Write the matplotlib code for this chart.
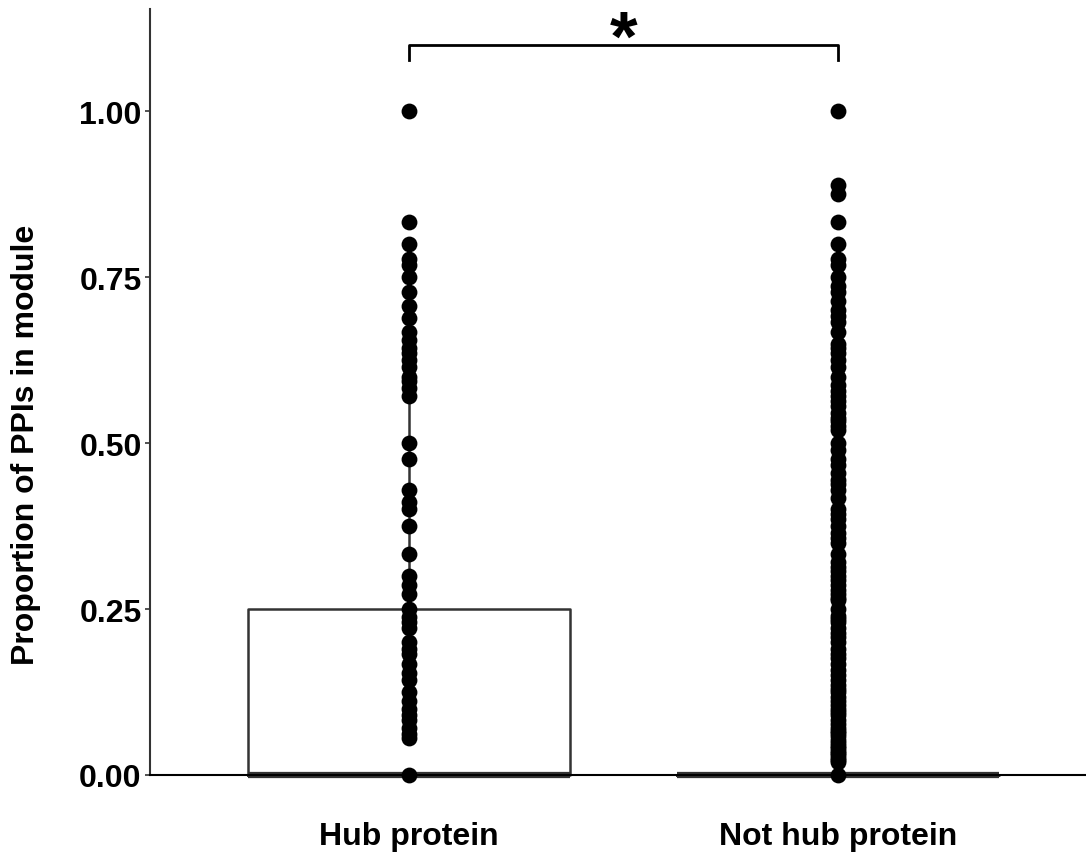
import matplotlib
matplotlib.use('Agg')
import matplotlib.pyplot as plt

# Categories and data
categories = ['Hub protein', 'Not hub protein']

hub_values = [1.0, 0.833, 0.80, 0.778, 0.769, 0.75, 0.727, 0.706, 0.688, 0.667,
              0.656, 0.643, 0.636, 0.625, 0.615, 0.60, 0.593, 0.583, 0.571,
              0.50, 0.476, 0.429, 0.412, 0.40, 0.375, 0.333, 0.30, 0.286,
              0.273, 0.25, 0.238, 0.231, 0.222, 0.20, 0.19, 0.182, 0.167,
              0.154, 0.143, 0.125, 0.111, 0.10, 0.091, 0.083, 0.071, 0.0625,
              0.056, 0.0]

not_hub_values = [1.0, 0.889, 0.875, 0.833, 0.80, 0.778, 0.769, 0.75, 0.737,
                  0.727, 0.714, 0.70, 0.692, 0.682, 0.667, 0.65, 0.643, 0.636,
                  0.625, 0.615, 0.60, 0.588, 0.579, 0.571, 0.563, 0.556, 0.545,
                  0.538, 0.533, 0.526, 0.52, 0.50, 0.489, 0.476, 0.467, 0.455,
                  0.444, 0.438, 0.429, 0.417, 0.40, 0.393, 0.385, 0.375, 0.364,
                  0.357, 0.35, 0.333, 0.321, 0.313, 0.308, 0.30, 0.294, 0.286,
                  0.278, 0.273, 0.267, 0.263, 0.25, 0.24, 0.235, 0.231, 0.222,
                  0.214, 0.208, 0.20, 0.19, 0.182, 0.176, 0.167, 0.158, 0.15,
                  0.143, 0.136, 0.13, 0.125, 0.118, 0.111, 0.105, 0.10, 0.095,
                  0.091, 0.083, 0.077, 0.071, 0.067, 0.063, 0.059, 0.053, 0.048,
                  0.043, 0.04, 0.036, 0.033, 0.03, 0.026, 0.022, 0.02, 0.0]

# Box statistics (q1, median, q3, whisker low, whisker high)
box_q1 = [0.0, 0.0]
box_median = [0.0, 0.0]
box_q3 = [0.25, 0.0]
whisker_low = [0.0, 0.0]
whisker_high = [0.625, 0.0]

y_ticks = [0.0, 0.25, 0.50, 0.75, 1.00]
y_tick_labels = ['0.00', '0.25', '0.50', '0.75', '1.00']

signif_label = '*'
signif_y = 1.10

plt.rcParams['font.family'] = ['Liberation Sans', 'DejaVu Sans']

fig = plt.figure(figsize=(10.86, 8.54), dpi=100)
ax = fig.add_axes([150 / 1086, 78 / 854, 936 / 1086, 766 / 854])

positions = [1, 2]
stats = []
for i, name in enumerate(categories):
    stats.append({
        'label': name,
        'q1': box_q1[i], 'med': box_median[i], 'q3': box_q3[i],
        'whislo': whisker_low[i], 'whishi': whisker_high[i],
        'fliers': [],
    })

bp = ax.bxp(stats, positions=positions, widths=0.75, showfliers=False,
            showcaps=False,
            boxprops=dict(color='#333333', linewidth=1.8),
            whiskerprops=dict(color='#333333', linewidth=1.8),
            medianprops=dict(color='#333333', linewidth=4.5,
                             solid_capstyle='butt'))
for line in bp['medians'] + bp['boxes']:
    line.set_clip_on(False)
    line.set_zorder(2.5)

ax.scatter([positions[0]] * len(hub_values), hub_values, s=130, color='black',
           zorder=3, clip_on=False, linewidths=0)
ax.scatter([positions[1]] * len(not_hub_values), not_hub_values, s=130,
           color='black', zorder=3, clip_on=False, linewidths=0)

# significance bracket
ax.plot([positions[0], positions[0], positions[1], positions[1]],
        [signif_y - 0.023, signif_y, signif_y, signif_y - 0.023],
        color='black', linewidth=2.0, clip_on=False)
ax.text((positions[0] + positions[1]) / 2, 1.077, signif_label,
        ha='center', va='baseline', fontsize=51, fontweight='bold')

ax.set_xlim(0.396, 2.578)
ax.set_ylim(0.0, 1.154)
ax.set_xticks(positions)
ax.set_xticklabels(categories, fontsize=23, fontweight='bold')
ax.set_yticks(y_ticks)
ax.set_yticklabels(y_tick_labels, fontsize=23, fontweight='bold')
ax.tick_params(axis='x', length=0, pad=33)
ax.tick_params(axis='y', length=3.5, width=1.2, color='#333333', pad=2.5)

ax.set_ylabel('Proportion of PPIs in module', fontsize=23, fontweight='bold')
ax.yaxis.set_label_coords((41 - 150) / 936, (776 - 445) / 766)

for side in ['top', 'right']:
    ax.spines[side].set_visible(False)
ax.spines['left'].set_linewidth(1.5)
ax.spines['left'].set_color('#333333')
ax.spines['bottom'].set_linewidth(1.5)
ax.spines['bottom'].set_color('black')

fig.savefig('out.png', dpi=100)
